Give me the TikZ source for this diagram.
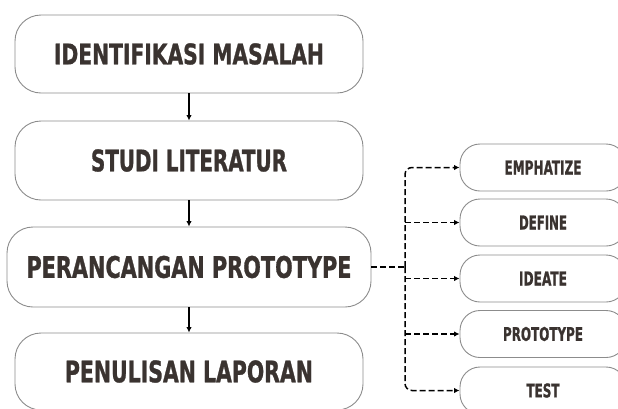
\documentclass[tikz,border=0pt]{standalone}
\usepackage{graphicx}
\usepackage{fontspec}
\usetikzlibrary{arrows.meta}
\newfontfamily\labelfont{DejaVu Sans Condensed}[BoldFeatures={FakeBold=1.2}]
\definecolor{boxgray}{HTML}{8C8C8C}
\definecolor{textc}{HTML}{3A3330}
\newcommand\lbl[3]{\resizebox{#1pt}{#2pt}{\labelfont\bfseries #3}}
\begin{document}
\begin{tikzpicture}[x=1pt,y=-1pt,
  box/.style={draw=boxgray, line width=0.9pt, fill=white, rounded corners=26pt, inner sep=0pt, text=textc},
  sbox/.style={draw=boxgray, line width=0.9pt, fill=white, rounded corners=20pt, inner sep=0pt, text=textc, minimum width=166pt, minimum height=47pt},
  flow/.style={-{Latex[length=5.5pt,width=5.5pt]}, line width=1.3pt, black},
  dflow/.style={flow, line width=1.5pt, dash pattern=on 6pt off 3pt},
  dline/.style={line width=1.5pt, black, dash pattern=on 6pt off 3pt}]
\useasboundingbox (0,0) rectangle (618,408);
\clip (0,0) rectangle (618,408);
\fill[white] (0,0) rectangle (618,408);
% main column
\node[box, minimum width=348pt, minimum height=78pt] (n1) at (189,54) {\lbl{270}{21}{IDENTIFIKASI MASALAH}};
\node[box, minimum width=348pt, minimum height=79pt] (n2) at (189,160.5) {\lbl{196}{22}{STUDI LITERATUR}};
\node[box, minimum width=364pt, minimum height=80pt] (n3) at (189,267) {\lbl{325}{22}{PERANCANGAN PROTOTYPE}};
\node[box, minimum width=348pt, minimum height=77pt] (n4) at (189,371.5) {\lbl{248}{22}{PENULISAN LAPORAN}};
% right column
\node[sbox] (e1) at (543,167.5) {\lbl{77}{14}{EMPHATIZE}};
\node[sbox] (e2) at (543,222.5) {\lbl{48}{14}{DEFINE}};
\node[sbox] (e3) at (543,278.5) {\lbl{48}{14}{IDEATE}};
\node[sbox] (e4) at (543,334) {\lbl{80}{14}{PROTOTYPE}};
\node[sbox] (e5) at (543,390.5) {\lbl{33}{14}{TEST}};
% solid arrows
\draw[flow] (n1) -- (n2);
\draw[flow] (n2) -- (n3);
\draw[flow] (n3) -- (n4);
% dashed branch
\coordinate (j) at (405,267);
\draw[dline] (n3.east) -- (j);
\draw[dflow, rounded corners=7pt] (j) |- (e1.west);
\draw[dflow, rounded corners=7pt] (j) |- (e5.west);
\draw[dflow] (j |- e2.west) -- (e2.west);
\draw[dflow] (j |- e3.west) -- (e3.west);
\draw[dflow] (j |- e4.west) -- (e4.west);
\end{tikzpicture}
\end{document}
